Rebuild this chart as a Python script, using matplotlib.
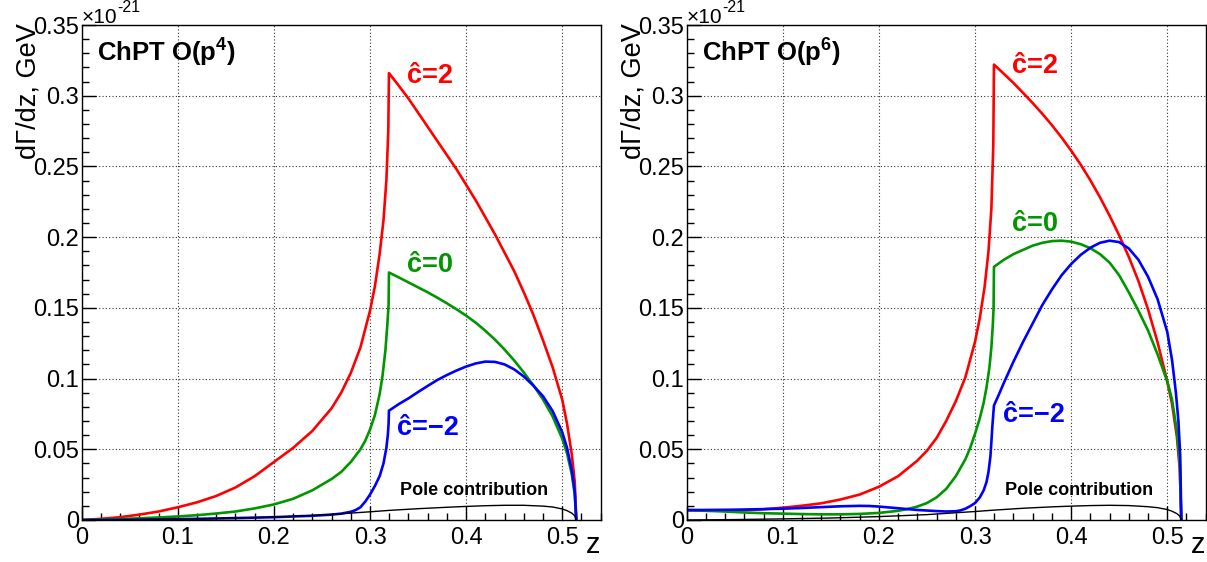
import matplotlib
matplotlib.use("Agg")
import matplotlib.pyplot as plt
from matplotlib.ticker import MultipleLocator, FuncFormatter

plt.rcParams['font.family'] = ['Liberation Sans', 'DejaVu Sans']
plt.rcParams['mathtext.fontset'] = 'custom'
plt.rcParams['mathtext.rm'] = 'Liberation Sans'
plt.rcParams['mathtext.bf'] = 'Liberation Sans:bold'

# ---------------- data: O(p^4) panel ----------------
z_red_p4 = [0, 0.02, 0.04, 0.06, 0.08, 0.1, 0.12, 0.14, 0.16, 0.18, 0.2, 0.22, 0.24, 0.26, 0.27, 0.28, 0.29,
            0.3, 0.305, 0.31, 0.314, 0.317, 0.319, 0.3197,
            0.33, 0.34, 0.35, 0.36, 0.37, 0.38, 0.39, 0.4, 0.41, 0.42, 0.43, 0.44, 0.45, 0.46, 0.47, 0.48,
            0.49, 0.5, 0.505, 0.51, 0.513, 0.5146]
red_p4 = [0, 0.0008, 0.002, 0.0038, 0.006, 0.009, 0.0125, 0.017, 0.023, 0.031, 0.041, 0.051, 0.063, 0.079,
          0.09, 0.104, 0.122, 0.148, 0.165, 0.188, 0.212, 0.24, 0.275, 0.316,
          0.307, 0.298, 0.288, 0.278, 0.268, 0.258, 0.248, 0.237, 0.226, 0.214, 0.202, 0.189, 0.176, 0.161,
          0.145, 0.127, 0.108, 0.085, 0.068, 0.046, 0.027, 0]

z_green_p4 = [0, 0.02, 0.04, 0.06, 0.08, 0.1, 0.12, 0.14, 0.16, 0.18, 0.2, 0.22, 0.24, 0.26, 0.27, 0.28,
              0.29, 0.295, 0.3, 0.305, 0.31, 0.313, 0.316, 0.318, 0.3193, 0.3197,
              0.33, 0.34, 0.35, 0.36, 0.37, 0.38, 0.39, 0.4, 0.41, 0.42, 0.43, 0.44, 0.45, 0.46, 0.47,
              0.48, 0.49, 0.5, 0.505, 0.51, 0.513, 0.5146]
green_p4 = [0, 0.0003, 0.0007, 0.0012, 0.0018, 0.0025, 0.0034, 0.0046, 0.006, 0.0082, 0.011, 0.015, 0.021,
            0.029, 0.034, 0.041, 0.05, 0.056, 0.064, 0.074, 0.089, 0.102, 0.12, 0.138, 0.152, 0.175,
            0.1715, 0.168, 0.1645, 0.161, 0.1572, 0.1532, 0.149, 0.1445, 0.1395, 0.1338, 0.1275, 0.1205,
            0.1128, 0.1043, 0.0952, 0.0852, 0.0732, 0.0575, 0.047, 0.032, 0.018, 0]

z_blue_p4 = [0, 0.05, 0.1, 0.15, 0.2, 0.24, 0.26, 0.27, 0.28, 0.285, 0.29, 0.295, 0.3, 0.305, 0.31, 0.314,
             0.317, 0.3185, 0.3193, 0.3197,
             0.33, 0.34, 0.35, 0.36, 0.37, 0.38, 0.39, 0.4, 0.41, 0.42, 0.43, 0.44, 0.45, 0.46, 0.47, 0.48,
             0.49, 0.5, 0.505, 0.51, 0.513, 0.5146]
blue_p4 = [0, 0.0002, 0.0006, 0.0012, 0.002, 0.003, 0.0038, 0.0045, 0.0058, 0.007, 0.009, 0.013, 0.018,
           0.024, 0.031, 0.04, 0.051, 0.06, 0.068, 0.0773,
           0.082, 0.086, 0.0905, 0.0948, 0.099, 0.1025, 0.1057, 0.1085, 0.1107, 0.112, 0.1118, 0.11, 0.1065,
           0.1015, 0.095, 0.0875, 0.077, 0.062, 0.051, 0.035, 0.02, 0]

z_pole_p4 = [0, 0.05, 0.1, 0.15, 0.2, 0.25, 0.3, 0.32, 0.35, 0.38, 0.4, 0.42, 0.44, 0.46, 0.48, 0.49, 0.5,
             0.505, 0.51, 0.513, 0.5146]
pole_p4 = [0, 0.0002, 0.0006, 0.0012, 0.002, 0.0035, 0.0058, 0.0068, 0.008, 0.009, 0.0096, 0.0101, 0.0104,
           0.0104, 0.0098, 0.0092, 0.0078, 0.0066, 0.0048, 0.003, 0]

# ---------------- data: O(p^6) panel ----------------
z_red_p6 = [0, 0.02, 0.04, 0.06, 0.08, 0.1, 0.12, 0.14, 0.16, 0.18, 0.2, 0.22, 0.24, 0.25, 0.26, 0.27, 0.28,
            0.29, 0.3, 0.305, 0.31, 0.314, 0.317, 0.319, 0.3197,
            0.33, 0.34, 0.35, 0.36, 0.37, 0.38, 0.39, 0.4, 0.41, 0.42, 0.43, 0.44, 0.45, 0.46, 0.47, 0.48,
            0.49, 0.5, 0.505, 0.51, 0.513, 0.5146]
red_p6 = [0.007, 0.0068, 0.0067, 0.0069, 0.0076, 0.0087, 0.0101, 0.0118, 0.0145, 0.018, 0.0235, 0.031, 0.042,
          0.049, 0.058, 0.07, 0.084, 0.101, 0.126, 0.143, 0.165, 0.19, 0.22, 0.265, 0.322,
          0.3155, 0.309, 0.302, 0.2948, 0.2872, 0.2792, 0.2705, 0.2612, 0.2512, 0.2402, 0.2282, 0.2152,
          0.2012, 0.186, 0.169, 0.149, 0.1255, 0.098, 0.082, 0.059, 0.036, 0]

z_green_p6 = [0, 0.02, 0.04, 0.06, 0.08, 0.1, 0.12, 0.14, 0.16, 0.18, 0.2, 0.22, 0.23, 0.24, 0.25, 0.26,
              0.27, 0.28, 0.29, 0.295, 0.3, 0.305, 0.309, 0.312, 0.315, 0.317, 0.3185, 0.3193, 0.3197,
              0.33, 0.34, 0.35, 0.36, 0.37, 0.38, 0.39, 0.4, 0.41, 0.42, 0.43, 0.44, 0.45, 0.46, 0.47,
              0.48, 0.49, 0.5, 0.505, 0.51, 0.513, 0.5146]
green_p6 = [0.007, 0.0065, 0.006, 0.0053, 0.0048, 0.0045, 0.0042, 0.004, 0.004, 0.0043, 0.005, 0.0065,
            0.0078, 0.0095, 0.012, 0.016, 0.022, 0.031, 0.043, 0.051, 0.061, 0.072, 0.083, 0.094, 0.108,
            0.122, 0.138, 0.15, 0.179,
            0.184, 0.188, 0.191, 0.194, 0.196, 0.1972, 0.1975, 0.1968, 0.195, 0.1922, 0.188, 0.182, 0.173,
            0.161, 0.148, 0.134, 0.117, 0.098, 0.085, 0.063, 0.04, 0]

z_blue_p6 = [0, 0.02, 0.04, 0.06, 0.08, 0.1, 0.12, 0.14, 0.16, 0.18, 0.19, 0.2, 0.22, 0.24, 0.26, 0.27,
             0.28, 0.285, 0.29, 0.295, 0.3, 0.305, 0.309, 0.312, 0.314, 0.316, 0.317, 0.318, 0.319, 0.3197,
             0.325, 0.33, 0.34, 0.35, 0.36, 0.37, 0.38, 0.39, 0.4, 0.41, 0.42, 0.43, 0.44, 0.45, 0.46,
             0.47, 0.48, 0.49, 0.5, 0.505, 0.509, 0.5116, 0.5135, 0.5146]
blue_p6 = [0.007, 0.0071, 0.0072, 0.0074, 0.0077, 0.008, 0.0085, 0.0091, 0.0097, 0.01, 0.0099, 0.0095,
           0.0083, 0.0071, 0.0063, 0.006, 0.0062, 0.0068, 0.008, 0.0098, 0.012, 0.016, 0.021, 0.027, 0.034,
           0.045, 0.055, 0.066, 0.075, 0.081,
           0.089, 0.097, 0.112, 0.126, 0.139, 0.152, 0.163, 0.173, 0.181, 0.1875, 0.1925, 0.196, 0.1975,
           0.1965, 0.192, 0.184, 0.172, 0.156, 0.133, 0.113, 0.09, 0.07, 0.045, 0]

z_pole_p6 = [0, 0.05, 0.1, 0.15, 0.2, 0.25, 0.3, 0.32, 0.35, 0.38, 0.4, 0.42, 0.44, 0.46, 0.48, 0.49, 0.5,
             0.505, 0.51, 0.513, 0.5146]
pole_p6 = [0, 0.0003, 0.0008, 0.0014, 0.0024, 0.0038, 0.006, 0.007, 0.0083, 0.0093, 0.0098, 0.0102, 0.0104,
           0.0102, 0.0094, 0.0087, 0.0074, 0.0062, 0.0045, 0.0028, 0]

titles = [r"ChPT O(p$^{\mathbf{4}}$)", r"ChPT O(p$^{\mathbf{6}}$)"]
curve_labels = ["\u0109=2", "\u0109=0", "\u0109=\u22122"]
pole_label = "Pole contribution"
ylabel = "d\u0393/dz, GeV"
xlabel = "z"

RED = '#ff0000'
GREEN = '#009600'
BLUE = '#0000ff'

W, H = 1207, 562
fig = plt.figure(figsize=(W / 100, H / 100), dpi=100)

panels = [
    dict(left=81.7, data=[(z_red_p4, red_p4, RED), (z_green_p4, green_p4, GREEN), (z_blue_p4, blue_p4, BLUE)],
         pole=(z_pole_p4, pole_p4),
         lab_pos=[(0.3385, 0.309), (0.3385, 0.1756), (0.3284, 0.060)],
         title=titles[0]),
    dict(left=686.7, data=[(z_red_p6, red_p6, RED), (z_green_p6, green_p6, GREEN), (z_blue_p6, blue_p6, BLUE)],
         pole=(z_pole_p6, pole_p6),
         lab_pos=[(0.338, 0.316), (0.338, 0.204), (0.329, 0.0695)],
         title=titles[1]),
]

top, bottom, width = 25.0, 520.0, 519.0
fmt = FuncFormatter(lambda v, p: ('%g' % round(v, 6)))

for pn in panels:
    ax = fig.add_axes([pn['left'] / W, 1 - bottom / H, width / W, (bottom - top) / H])
    ax.set_xlim(0, 0.54)
    ax.set_ylim(0, 0.35)
    ax.xaxis.set_major_locator(MultipleLocator(0.1))
    ax.xaxis.set_minor_locator(MultipleLocator(0.02))
    ax.yaxis.set_major_locator(MultipleLocator(0.05))
    ax.yaxis.set_minor_locator(MultipleLocator(0.01))
    ax.xaxis.set_major_formatter(fmt)
    ax.yaxis.set_major_formatter(fmt)
    ax.tick_params(which='both', direction='in', top=False, right=False, labelsize=17, width=1.0)
    ax.tick_params(which='major', length=10)
    ax.tick_params(which='minor', length=5)
    ax.tick_params(axis='x', pad=5)
    ax.tick_params(axis='y', pad=2)
    for s in ax.spines.values():
        s.set_linewidth(1.0)
    ax.grid(True, which='major', linestyle=(0, (1, 2)), color='#333333', linewidth=0.8)
    ax.set_axisbelow(True)

    for (zz, yy, c) in pn['data']:
        ax.plot(zz, yy, color=c, lw=1.9, solid_joinstyle='round')
    ax.plot(pn['pole'][0], pn['pole'][1], color='black', lw=1.0)

    for (lp, txt, (_, _, c)) in zip(pn['lab_pos'], curve_labels, pn['data']):
        ax.text(lp[0], lp[1], txt, color=c, fontsize=19.5, fontweight='bold', ha='left', va='baseline')
    ax.text(0.331, 0.0177, pole_label, fontsize=13, fontweight='bold', ha='left', va='baseline')
    ax.text(0.016, 0.325, pn['title'], fontsize=18.5, fontweight='bold', ha='left', va='baseline')

    ax.set_ylabel(ylabel, fontsize=19.5, loc='top')
    ax.yaxis.set_label_coords(-0.078, 1.004)
    ax.set_xlabel(xlabel, fontsize=21, loc='right')
    ax.xaxis.set_label_coords(1.0, -0.022)

    x0 = pn['left']
    t1 = fig.text(x0 / W, 1 - 22.7 / H, "\u00d710", fontsize=15, ha='left', va='baseline')
    ax.annotate("-21", xy=(1.0, 0.62), xycoords=t1, fontsize=11.5, ha='left', va='bottom',
                annotation_clip=False)

fig.savefig("out.png", dpi=100)
